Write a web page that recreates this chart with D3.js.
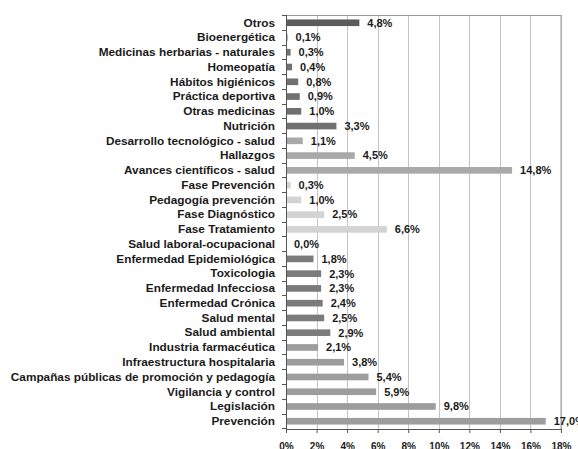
<!DOCTYPE html>
<html>
<head>
<meta charset="utf-8">
<script src="https://cdn.jsdelivr.net/npm/d3@7"></script>
<style>
  html, body { margin: 0; padding: 0; background: #fff; overflow: hidden; }
  svg { display: block; }
  svg text { font-family: "Liberation Sans", Arial, sans-serif; font-weight: bold; fill: #1a1a1a; }
</style>
</head>
<body>
<svg id="chart"></svg>
<script>
//Categories from top to bottom
const categories = [
    "Otros", "Bioenergética", "Medicinas herbarias - naturales", "Homeopatía",
    "Hábitos higiénicos", "Práctica deportiva", "Otras medicinas", "Nutrición",
    "Desarrollo tecnológico - salud", "Hallazgos", "Avances científicos - salud",
    "Fase Prevención", "Pedagogía prevención", "Fase Diagnóstico", "Fase Tratamiento",
    "Salud laboral-ocupacional", "Enfermedad Epidemiológica", "Toxicologia",
    "Enfermedad Infecciosa", "Enfermedad Crónica", "Salud mental", "Salud ambiental",
    "Industria farmacéutica", "Infraestructura hospitalaria",
    "Campañas públicas de promoción y pedagogía", "Vigilancia y control",
    "Legislación", "Prevención"
];
//Share of each category (%)
const values = [4.8, 0.1, 0.3, 0.4, 0.8, 0.9, 1.0, 3.3, 1.1, 4.5, 14.8, 0.3, 1.0, 2.5, 6.6,
    0.0, 1.8, 2.3, 2.3, 2.4, 2.5, 2.9, 2.1, 3.8, 5.4, 5.9, 9.8, 17.0];
//Group of each bar, used for the gray shade
const groups = ["a", "b", "b", "b", "b", "b", "b", "b", "c", "c", "c", "d", "d", "d", "d",
    "e", "e", "e", "e", "e", "e", "e", "f", "f", "f", "f", "f", "f"];
const xTicks = [0, 2, 4, 6, 8, 10, 12, 14, 16, 18];

const svgWidth = 578, svgHeight = 449;
const margin = { top: 15, right: 17, bottom: 20, left: 286 };
const innerWidth = svgWidth - margin.left - margin.right;
const innerHeight = svgHeight - margin.top - margin.bottom;

const svg = d3.select("#chart")
    .attr("width", svgWidth)
    .attr("height", svgHeight);

const g = svg.append("g")
    .attr("transform", `translate(${margin.left},${margin.top})`);

const xScale = d3.scaleLinear().domain([0, 18]).range([0, innerWidth]);
const yScale = d3.scaleBand().domain(categories).range([0, innerHeight]).paddingInner(0.55).paddingOuter(0.3);
const bandStep = yScale.step();

const color = d3.scaleOrdinal()
    .domain(["a", "b", "c", "d", "e", "f"])
    .range(["#5c5c5c", "#707070", "#a9a9a9", "#d3d3d3", "#7b7b7b", "#9d9d9d"]);

//vertical grid lines
g.append("g")
    .selectAll("line")
    .data(xTicks.slice(1))
    .join("line")
    .attr("x1", d => Math.round(xScale(d)) + 0.5).attr("x2", d => Math.round(xScale(d)) + 0.5)
    .attr("y1", 0).attr("y2", innerHeight)
    .attr("stroke", "#c4c4c4")
    .attr("stroke-width", 1);

//top border
g.append("line")
    .attr("x1", 0).attr("x2", innerWidth)
    .attr("y1", 0.5).attr("y2", 0.5)
    .attr("stroke", "#9a9a9a");

//right border
g.append("line")
    .attr("x1", innerWidth).attr("x2", innerWidth)
    .attr("y1", 0).attr("y2", innerHeight)
    .attr("stroke", "#9a9a9a");

//bars
g.selectAll("rect.bar")
    .data(values)
    .join("rect")
    .attr("class", "bar")
    .attr("x", 0)
    .attr("y", (d, i) => yScale(categories[i]))
    .attr("height", yScale.bandwidth())
    .attr("width", d => xScale(d))
    .attr("fill", (d, i) => color(groups[i]));

//value labels
g.selectAll("text.value")
    .data(values)
    .join("text")
    .attr("class", "value")
    .attr("x", d => xScale(d) + 8)
    .attr("y", (d, i) => yScale(categories[i]) + yScale.bandwidth() / 2)
    .attr("dy", "0.35em")
    .attr("font-size", "11px")
    .text(d => d3.format(".1f")(d).replace(".", ",") + "%");

//left axis with category labels
const yAxis = g.append("g")
    .call(d3.axisLeft(yScale).tickSize(0).tickPadding(11));
yAxis.select(".domain").remove();
yAxis.selectAll(".tick text")
    .attr("fill", "#1a1a1a")
    .attr("font-size", "11.8px");

//axis line and small ticks between categories
g.append("line")
    .attr("x1", 0.5).attr("x2", 0.5)
    .attr("y1", 0).attr("y2", innerHeight + 4)
    .attr("stroke", "#555");
g.append("g")
    .selectAll("line")
    .data(d3.range(categories.length + 1))
    .join("line")
    .attr("x1", -4).attr("x2", 0)
    .attr("y1", d => Math.round(d * bandStep) + 0.5)
    .attr("y2", d => Math.round(d * bandStep) + 0.5)
    .attr("stroke", "#555");

//bottom axis
const xAxis = g.append("g")
    .attr("transform", `translate(0,${innerHeight})`)
    .call(d3.axisBottom(xScale).tickValues(xTicks).tickSize(4).tickPadding(10).tickFormat(d => d + "%"));
xAxis.select(".domain").attr("stroke", "#555");
xAxis.selectAll(".tick line").attr("stroke", "#555");
xAxis.selectAll(".tick text")
    .attr("font-size", "10px")
    .attr("fill", "#1a1a1a");
</script>
</body>
</html>
